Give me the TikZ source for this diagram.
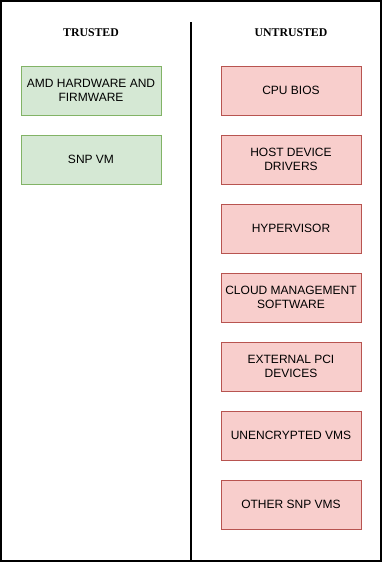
\documentclass[tikz,border=0pt]{standalone}
\usepackage{fontspec}
\setmainfont{Liberation Serif}
\setsansfont{Liberation Sans}
\usepackage{xcolor}
\usetikzlibrary{positioning}
\definecolor{trustfill}{HTML}{D5E8D4}
\definecolor{trustline}{HTML}{82B366}
\definecolor{untrustfill}{HTML}{F8CECC}
\definecolor{untrustline}{HTML}{B85450}
\tikzset{
 box/.style={minimum width=140pt,minimum height=49pt,align=center,inner sep=0pt,
   outer sep=0pt,font=\sffamily\fontsize{12}{14}\selectfont},
 trustbox/.style={box,fill=trustfill,draw=trustline},
 untrustbox/.style={box,fill=untrustfill,draw=untrustline},
 head/.style={font=\rmfamily\bfseries\fontsize{11.8}{13}\selectfont}
}

\begin{document}
\begin{tikzpicture}[x=1pt,y=-1pt]
 \useasboundingbox (0,0) rectangle (382,562);
 \draw[line width=1.6pt] (1,1) rectangle (381,561);
 % divider
 \coordinate (top) at (191,22);
 \coordinate (bot) at (191,561);
 \draw[line width=1.6pt] (top) -- (bot);
 % trusted
 \node[head] (trusted) at (91,33) {TRUSTED};
 \node[trustbox] (amd) at (91,90.5) {AMD HARDWARE AND\\FIRMWARE};
 \node[trustbox,below=20pt of amd] (snp) {SNP VM};
 % untrusted
 \node[head] (untrusted) at (291,33) {UNTRUSTED};
 \node[untrustbox] (bios) at (291,90.5) {CPU BIOS};
 \node[untrustbox,below=20pt of bios] (drivers) {HOST DEVICE\\DRIVERS};
 \node[untrustbox,below=20pt of drivers] (hv) {HYPERVISOR};
 \node[untrustbox,below=20pt of hv] (cloud) {CLOUD MANAGEMENT\\SOFTWARE};
 \node[untrustbox,below=20pt of cloud] (pci) {EXTERNAL PCI\\DEVICES};
 \node[untrustbox,below=20pt of pci] (vms) {UNENCRYPTED VMS};
 \node[untrustbox,below=20pt of vms] (other) {OTHER SNP VMS};
\end{tikzpicture}
\end{document}
